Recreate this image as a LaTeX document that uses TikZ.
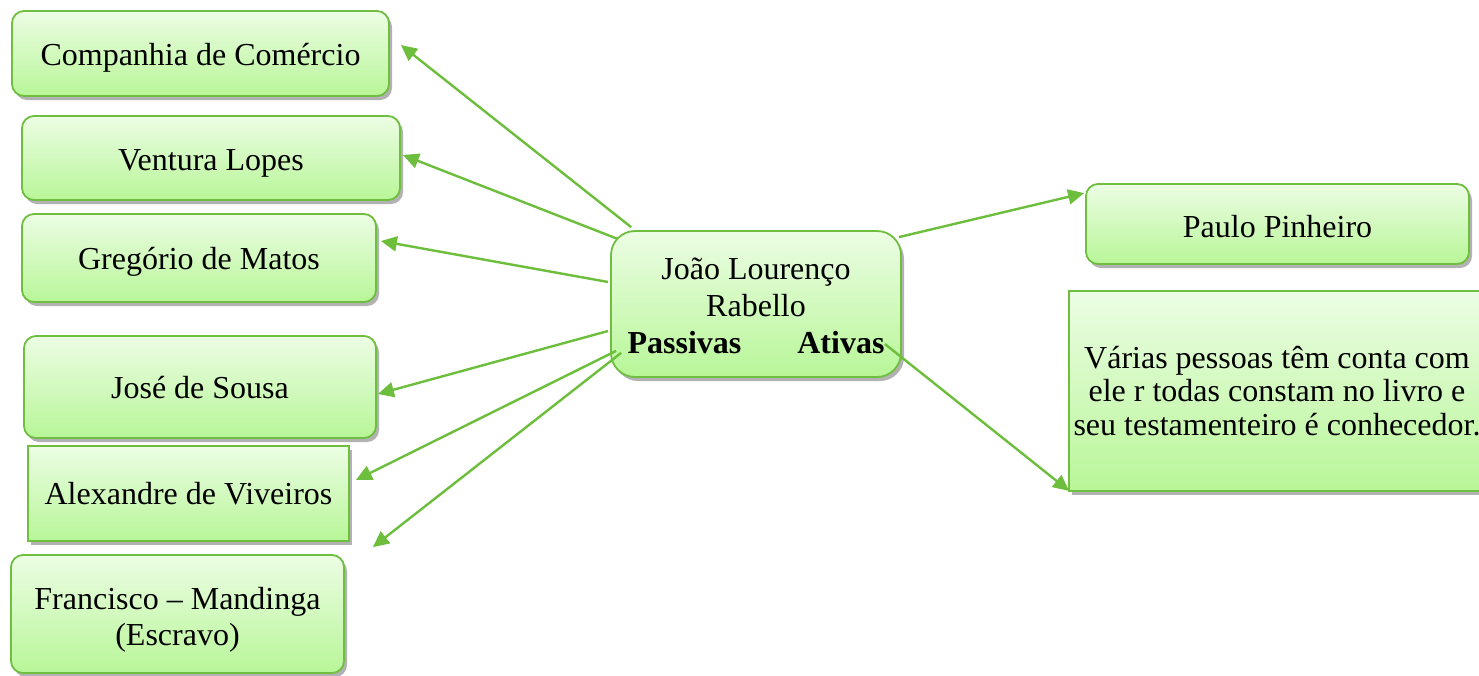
\documentclass[tikz,border=0pt]{standalone}
\usepackage{fontspec}
\setmainfont{Liberation Serif}
\usetikzlibrary{arrows.meta,shadows,calc}
\definecolor{boxline}{RGB}{112,190,64}
\definecolor{boxtop}{RGB}{236,253,228}
\definecolor{boxbot}{RGB}{184,246,152}
\definecolor{arrowgreen}{RGB}{108,190,60}
% lower a label inside its box without changing the box size
\newcommand\dropline[2]{\raisebox{-#1}[\height][\depth]{#2}}
\newcommand\droplines[2]{\raisebox{-#1}[\height][\depth]{\begin{tabular}{@{}c@{}}#2\end{tabular}}}
\tikzset{
  card/.style={draw=boxline, line width=1.8pt, top color=boxtop, bottom color=boxbot,
    rounded corners=12pt, align=center, inner sep=0pt,
    font=\fontsize{32}{36}\selectfont,
    drop shadow={shadow xshift=3pt, shadow yshift=-4pt, fill=black, opacity=0.3}},
  squarecard/.style={card, rounded corners=0pt},
  link/.style={draw=arrowgreen, line width=2.4pt, -{Triangle[length=16pt,width=15pt]}}
}
\begin{document}
\begin{tikzpicture}[x=1pt,y=-1pt]
\useasboundingbox (0,0) rectangle (1479,675);

% central node
\node[card, rounded corners=24pt, minimum width=290pt, minimum height=146pt,
      font=\fontsize{32}{37}\selectfont] (c) at (756,304)
  {\droplines{5pt}{João Lourenço\\Rabello\\\textbf{Passivas}\hspace{56pt}\textbf{Ativas}}};

% passive side
\node[card, minimum width=377pt, minimum height=85pt] (comp) at (200.5,53.5) {\dropline{4pt}{Companhia de Comércio}};
\node[card, minimum width=378pt, minimum height=84pt] (vent) at (211,158) {\dropline{5pt}{Ventura Lopes}};
\node[card, minimum width=354pt, minimum height=88pt] (greg) at (199,258) {\dropline{4pt}{Gregório de Matos}};
\node[card, minimum width=352pt, minimum height=102pt] (jose) at (200,387) {\dropline{1pt}{José de Sousa}};
\node[squarecard, minimum width=321pt, minimum height=95pt] (alex) at (188.5,493.5) {Alexandre de Viveiros};
\node[card, minimum width=333pt, minimum height=118pt] (fran) at (177.5,614) {\droplines{6pt}{Francisco – Mandinga\\(Escravo)}};

% active side
\node[card, minimum width=383pt, minimum height=80pt] (paulo) at (1277.5,224) {\dropline{3pt}{Paulo Pinheiro}};
\node[squarecard, minimum width=416pt, minimum height=200pt,
      font=\fontsize{32}{33.5}\selectfont] (var) at (1277,391)
  {Várias pessoas têm conta com\\ele r todas constam no livro e\\seu testamenteiro é conhecedor.};

% connectors
\draw[link] ($(c.north west)+(21,-3)$) -- ($(comp.east)+(11,-8.5)$);
\draw[link] ($(c.north west)+(8,9)$) -- ($(vent.east)+(2,-3)$);
\draw[link] ($(c.west)+(-2,-22)$) -- ($(greg.east)+(4,-17)$);
\draw[link] ($(c.west)+(-2,27)$) -- ($(jose.east)+(1,7)$);
\draw[link] ($(c.south west)+(6,-27)$) -- ($(alex.east)+(6,-13.5)$);
\draw[link] ($(c.south west)+(11,-25)$) -- ($(fran.north east)+(28,-7)$);
\draw[link] ($(c.north east)+(-3,7)$) -- ($(paulo.north west)+(-1,10)$);
\draw[link] ($(c.east)+(-17,40)$) -- ($(var.south west)+(1,-1)$);
\end{tikzpicture}
\end{document}
